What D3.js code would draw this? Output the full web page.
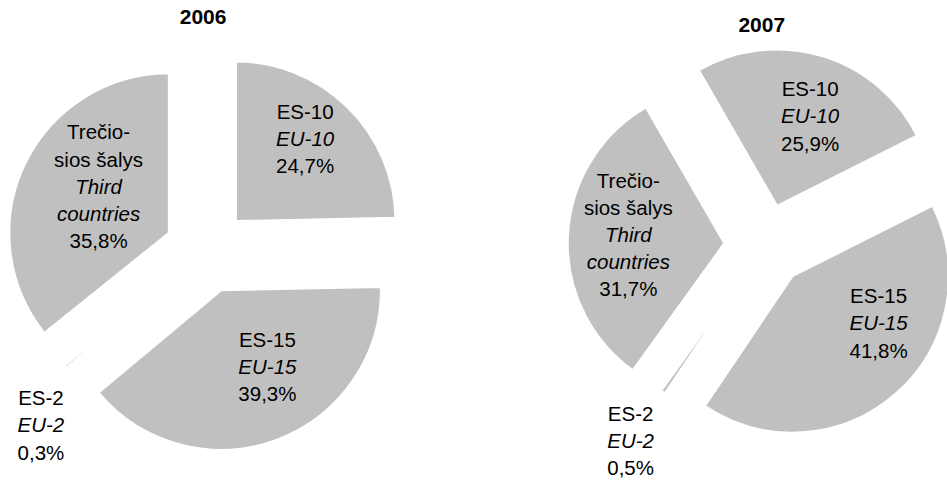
<!DOCTYPE html>
<html>
<head>
<meta charset="utf-8">
<script src="https://cdnjs.cloudflare.com/ajax/libs/d3/7.8.5/d3.min.js"></script>
<style>
    body { margin: 0; background: #fff; }
    svg { display: block; font-family: "Liberation Sans", Arial, sans-serif; }
</style>
</head>
<body>
<svg id="chart"></svg>
<script>
    'use strict';

    // data
    var years = ['2006', '2007'];
    var categoriesLt = [['ES-10'], ['ES-15'], ['ES-2'], ['Trečio-', 'sios šalys']];
    var categoriesEn = [['EU-10'], ['EU-15'], ['EU-2'], ['Third', 'countries']];
    var values2006 = [24.7, 39.3, 0.3, 35.8];
    var values2007 = [25.9, 41.8, 0.5, 31.7];

    var width = 947;
    var height = 481;
    var fill = '#c0c0c0';
    var lineH = 27.2;

    // per-slice explode (fraction of radius), ES-2 sits closer in
    var explode = [0.26, 0.26, 0.14, 0.26];
    // label radius (fraction of radius)
    var labelR = [0.62, 0.62, 1.5, 0.62];

    var pies = [
        { values: values2006, cx: 206.6, cy: 251, r: 160, rotation: 0, titleY: 24,
          nudge: [[0, -12], [11.5, -16.4], [37.4, 7.9], [18.9, -3.7]] },
        { values: values2007, cx: 765.3, cy: 245.3, r: 157, rotation: -30, titleY: 32,
          nudge: [[5.2, 3.2], [22, -26], [12.5, -16.1], [1, -3.7]] }
    ];

    var fmt = d3.formatLocale({ decimal: ',', thousands: ' ', grouping: [3], currency: ['', ''] }).format('.1f');

    var svg = d3.select('#chart')
        .attr('width', width)
        .attr('height', height);

    pies.forEach(function(p, pi) {
        var rot = p.rotation * Math.PI / 180;
        var pie = d3.pie()
            .sort(null)
            .value(function(d) { return d; })
            .startAngle(rot)
            .endAngle(rot + 2 * Math.PI);

        var arc = d3.arc().innerRadius(0).outerRadius(p.r);

        var g = svg.append('g')
            .attr('transform', 'translate(' + p.cx + ',' + p.cy + ')');

        var slices = g.selectAll('g.slice')
            .data(pie(p.values))
            .enter()
            .append('g')
            .attr('class', 'slice')
            .attr('transform', function(d, i) {
                var a = (d.startAngle + d.endAngle) / 2;
                var off = explode[i] * p.r;
                return 'translate(' + (off * Math.sin(a)) + ',' + (-off * Math.cos(a)) + ')';
            });

        slices.append('path')
            .attr('d', arc)
            .attr('fill', fill)
            .attr('stroke', '#fff')
            .attr('stroke-width', 2.5)
            .attr('stroke-linejoin', 'round');

        slices.each(function(d, i) {
            var lr = labelR[i] * p.r;
            var c = d3.arc().innerRadius(lr).outerRadius(lr).centroid(d);
            var x = c[0] + p.nudge[i][0];
            var y = c[1] + p.nudge[i][1];

            var lines = [];
            categoriesLt[i].forEach(function(t) { lines.push({ t: t, it: false }); });
            categoriesEn[i].forEach(function(t) { lines.push({ t: t, it: true }); });
            lines.push({ t: fmt(p.values[i]) + '%', it: false });

            var n = lines.length;
            var text = d3.select(this).append('text')
                .attr('text-anchor', 'middle')
                .attr('font-size', '20.5px')
                .attr('fill', '#000');

            text.selectAll('tspan')
                .data(lines)
                .enter()
                .append('tspan')
                .attr('x', x)
                .attr('y', function(l, k) { return y + (k - (n - 1) / 2) * lineH + 7.3; })
                .attr('font-style', function(l) { return l.it ? 'italic' : 'normal'; })
                .text(function(l) { return l.t; });
        });

        svg.append('text')
            .attr('x', p.cx - 3.5)
            .attr('y', p.titleY)
            .attr('text-anchor', 'middle')
            .attr('font-size', '21px')
            .attr('font-weight', 'bold')
            .text(years[pi]);
    });
</script>
</body>
</html>
